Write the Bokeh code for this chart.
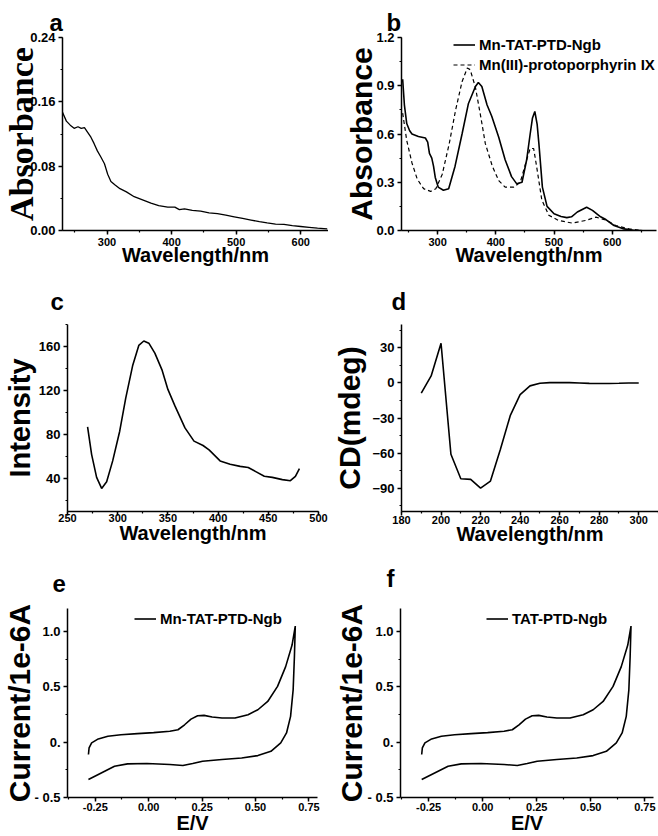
from bokeh.plotting import figure
from bokeh.layouts import column, row
from bokeh.models import (SingleIntervalTicker, FixedTicker, NumeralTickFormatter,
                          Legend, LegendItem)
from bokeh.embed import file_html
from bokeh.resources import INLINE

# ---------------- data ----------------
# (a) UV-vis absorbance
a_wl = [231, 237, 243, 249, 255, 260, 265, 270, 275, 280, 285, 290, 296, 301, 306, 312,
        320, 330, 342, 355, 368, 380, 394, 405, 412, 420, 432, 445, 458, 471, 484, 497,
        510, 523, 536, 548, 561, 574, 587, 600, 613, 626, 641]
a_abs = [0.147, 0.136, 0.131, 0.127, 0.129, 0.127, 0.128, 0.122, 0.116, 0.108, 0.099, 0.092,
         0.083, 0.070, 0.061, 0.057, 0.052, 0.048, 0.042, 0.038, 0.034, 0.031, 0.029, 0.029,
         0.026, 0.027, 0.025, 0.024, 0.022, 0.021, 0.019, 0.017, 0.015, 0.013, 0.011, 0.0095,
         0.008, 0.0075, 0.006, 0.005, 0.004, 0.003, 0.002]

# (b) Mn-TAT-PTD-Ngb (solid) and Mn(III)-protoporphyrin IX (dashed)
b_wl_ngb = [240, 243, 247, 252, 256, 267, 279, 283, 286, 290, 293, 296, 301, 310, 319, 330,
            342, 353, 365, 370, 376, 385, 393, 405, 416, 427, 436, 445, 453, 459, 463, 467,
            471, 474, 480, 488, 500, 512, 522, 530, 540, 556, 566, 580, 589, 603, 620, 637, 650]
b_abs_ngb = [0.94, 0.78, 0.665, 0.62, 0.60, 0.585, 0.575, 0.55, 0.48, 0.45, 0.40, 0.33, 0.27,
             0.25, 0.26, 0.40, 0.60, 0.79, 0.895, 0.92, 0.895, 0.78, 0.71, 0.58, 0.44, 0.335,
             0.29, 0.30, 0.44, 0.60, 0.70, 0.74, 0.66, 0.54, 0.27, 0.15, 0.104, 0.087, 0.08,
             0.085, 0.115, 0.145, 0.125, 0.085, 0.068, 0.031, 0.010, 0.002, 0.0]
b_wl_mnpp = [240, 247, 256, 265, 276, 288, 297, 308, 320, 331, 342, 351, 356, 365, 374, 382,
             394, 405, 416, 431, 442, 453, 459, 465, 470, 479, 491, 508, 531, 554, 572, 589,
             606, 629, 652]
b_abs_mnpp = [0.73, 0.56, 0.42, 0.32, 0.26, 0.243, 0.26, 0.35, 0.54, 0.75, 0.925, 1.01, 1.0,
              0.89, 0.71, 0.54, 0.40, 0.31, 0.27, 0.27, 0.30, 0.44, 0.51, 0.51, 0.40, 0.19,
              0.095, 0.062, 0.046, 0.062, 0.083, 0.065, 0.031, 0.01, 0.0]

# (c) fluorescence intensity
c_wl = [270, 274, 279, 284, 289, 295, 302, 308, 315, 321, 326, 331, 337, 344, 350, 357, 367,
        376, 385, 391, 402, 412, 422, 430, 438, 446, 454, 464, 472, 477, 481]
c_int = [87, 62, 41, 31, 37, 56, 83, 113, 143, 161, 165, 163, 154, 139, 121, 106, 86, 74, 70,
         66, 56, 53, 51, 50, 46, 42, 41, 39, 38, 42, 49]

# (d) circular dichroism
d_wl = [190, 195, 200, 205, 210, 215, 220, 225, 230, 235, 240, 245, 250, 255, 260, 265, 270,
        275, 280, 285, 290, 295, 300]
d_cd = [-8.7, 6, 34, -61, -82, -82.5, -90, -84, -57, -28, -10, -2.5, -0.3, 0.3, 0.4, 0.3, 0,
        -0.4, -0.5, -0.5, -0.3, 0, 0]

# (e, f) cyclic voltammograms (forward then reverse scan)
cv_E = [-0.282, -0.279, -0.267, -0.236, -0.191, -0.130, -0.053, 0.023, 0.099, 0.137, 0.168,
        0.198, 0.229, 0.259, 0.297, 0.343, 0.404, 0.465, 0.511, 0.557, 0.603, 0.641, 0.671,
        0.686, 0.682, 0.676, 0.664, 0.645, 0.618, 0.572, 0.511, 0.435, 0.343, 0.252, 0.206,
        0.160, 0.099, -0.008, -0.099, -0.160, -0.206, -0.252, -0.282]
cv_I = [-0.111, -0.052, -0.006, 0.030, 0.054, 0.068, 0.078, 0.087, 0.099, 0.113, 0.158, 0.209,
        0.240, 0.243, 0.228, 0.219, 0.219, 0.249, 0.294, 0.369, 0.505, 0.684, 0.879, 1.051,
        0.775, 0.474, 0.234, 0.084, -0.006, -0.082, -0.121, -0.142, -0.156, -0.172, -0.193,
        -0.211, -0.201, -0.193, -0.196, -0.217, -0.262, -0.307, -0.337]
cvf_E = list(cv_E)
cvf_I = list(cv_I)

e_yticks = [-0.5, 0, 0.5, 1.0]
e_ylabels = ["- 0.5", "0.", "0.5", "1.0"]

SANS = "Liberation Sans"
SERIF = "Liberation Serif"


def panel(width, height, mbl, mbr, mbt, mbb, xr, yr, tag, t_off, t_stand, t_va):
    p = figure(width=width, height=height, x_range=xr, y_range=yr, output_backend="svg",
               toolbar_location=None, min_border_left=mbl, min_border_right=mbr,
               min_border_top=mbt, min_border_bottom=mbb, title=tag)
    p.title.align = "left"
    p.title.vertical_align = t_va
    p.title.offset = t_off
    p.title.standoff = t_stand
    p.title.text_font = SANS
    p.title.text_font_style = "bold"
    p.title.text_font_size = "24px"
    p.title.text_color = "black"
    p.outline_line_color = None
    p.xgrid.visible = False
    p.ygrid.visible = False
    for ax in (p.xaxis[0], p.yaxis[0]):
        ax.axis_line_width = 1.5
        ax.axis_line_color = "black"
        ax.major_tick_line_width = 1.5
        ax.minor_tick_line_width = 1.2
        ax.major_tick_line_color = "black"
        ax.minor_tick_line_color = "black"
        ax.major_tick_out = 4
        ax.major_tick_in = 0
        ax.minor_tick_out = 2
        ax.minor_tick_in = 0
        ax.major_label_text_font = SANS
        ax.major_label_text_font_style = "bold"
        ax.major_label_text_color = "black"
        ax.axis_label_text_font = SANS
        ax.axis_label_text_font_style = "bold"
        ax.axis_label_text_color = "black"
    p.xaxis[0].major_label_text_font_size = "11px"
    p.yaxis[0].major_label_text_font_size = "13px"
    p.xaxis[0].axis_label_text_font_size = "20px"
    p.yaxis[0].major_label_standoff = 3
    return p


def line_legend(p, items, x, y):
    leg = Legend(items=items, location=(x, y), border_line_color=None,
                 background_fill_alpha=0, padding=0, margin=0, spacing=3,
                 glyph_width=22, glyph_height=15, label_height=15, label_standoff=4,
                 label_text_font=SANS, label_text_font_style="bold",
                 label_text_font_size="15px", label_text_color="black")
    p.add_layout(leg)


LW = 1.6

# ---- (a)
pa = panel(328, 268, 62, 0, 37, 38, (231, 643), (0, 0.24), "a", -13, 0, "top")
pa.line(a_wl, a_abs, line_color="black", line_width=1.3)
pa.xaxis[0].ticker = SingleIntervalTicker(interval=100, num_minor_ticks=2)
pa.yaxis[0].ticker = SingleIntervalTicker(interval=0.08, num_minor_ticks=2)
pa.yaxis[0].formatter = NumeralTickFormatter(format="0.00")
pa.xaxis[0].axis_label = "Wavelength/nm"
pa.yaxis[0].axis_label = "Absorbance"
pa.yaxis[0].axis_label_text_font = SERIF
pa.yaxis[0].axis_label_text_font_size = "34px"
pa.yaxis[0].axis_label_standoff = -13
pa.xaxis[0].major_label_standoff = 3
pa.xaxis[0].axis_label_standoff = -5

# ---- (b)
pb = panel(330, 268, 73, 2, 37, 38, (238, 676), (0, 1.2), "b", -15, 0, "top")
r1 = pb.line(b_wl_ngb, b_abs_ngb, line_color="black", line_width=LW)
r2 = pb.line(b_wl_mnpp, b_abs_mnpp, line_color="black", line_width=1.2, line_dash="4 3")
pb.xaxis[0].ticker = SingleIntervalTicker(interval=100, num_minor_ticks=2)
pb.yaxis[0].ticker = SingleIntervalTicker(interval=0.3, num_minor_ticks=2)
pb.yaxis[0].formatter = NumeralTickFormatter(format="0.0")
pb.xaxis[0].axis_label = "Wavelength/nm"
pb.yaxis[0].axis_label = "Absorbance"
pb.yaxis[0].axis_label_text_font_size = "30px"
pb.yaxis[0].axis_label_standoff = -5
pb.xaxis[0].major_label_standoff = 3
pb.xaxis[0].axis_label_standoff = -5
line_legend(pb, [LegendItem(label="Mn-TAT-PTD-Ngb", renderers=[r1]),
                 LegendItem(label="Mn(III)-protoporphyrin IX", renderers=[r2])], 52, 157)

# ---- (c)
pc = panel(328, 280, 62, 10, 56, 36, (250, 500), (10, 180), "c", -17, 20, "bottom")
pc.line(c_wl, c_int, line_color="black", line_width=LW)
pc.xaxis[0].ticker = SingleIntervalTicker(interval=50, num_minor_ticks=2)
pc.yaxis[0].ticker = SingleIntervalTicker(interval=40, num_minor_ticks=2)
pc.xaxis[0].axis_label = "Wavelength/nm"
pc.yaxis[0].axis_label = "Intensity"
pc.yaxis[0].axis_label_text_font_size = "29px"
pc.yaxis[0].axis_label_standoff = 0
pc.xaxis[0].major_label_standoff = -2
pc.xaxis[0].axis_label_standoff = -3

# ---- (d)
pd_ = panel(330, 280, 73, 0, 54, 37, (180, 310), (-110, 50), "d", -10, 20, "bottom")
pd_.line(d_wl, d_cd, line_color="black", line_width=LW)
pd_.xaxis[0].ticker = SingleIntervalTicker(interval=20, num_minor_ticks=2)
pd_.yaxis[0].ticker = SingleIntervalTicker(interval=30, num_minor_ticks=2)
pd_.xaxis[0].axis_label = "Wavelength/nm"
pd_.yaxis[0].axis_label = "CD(mdeg)"
pd_.yaxis[0].axis_label_text_font_size = "30px"
pd_.yaxis[0].axis_label_standoff = 3
pd_.xaxis[0].major_label_standoff = 0
pd_.xaxis[0].axis_label_standoff = -4


# ---- (e) and (f)
def cv_panel(mbl, mbr, width, E, I, name, lx, tag, t_off, lab_standoff):
    p = panel(width, 288, mbl, mbr, 60, 38, (-0.38, 0.79), (-0.5, 1.21), tag, t_off, 30,
              "top")
    r = p.line(E, I, line_color="black", line_width=LW)
    p.xaxis[0].ticker = SingleIntervalTicker(interval=0.25, num_minor_ticks=2)
    p.xaxis[0].formatter = NumeralTickFormatter(format="0.00")
    p.yaxis[0].ticker = FixedTicker(ticks=e_yticks, minor_ticks=[-0.25, 0.25, 0.75])
    p.yaxis[0].major_label_overrides = dict(zip(e_yticks, e_ylabels))
    p.xaxis[0].axis_label = "E/V"
    p.yaxis[0].axis_label = "Current/1e-6A"
    p.yaxis[0].axis_label_text_font_size = "30px"
    p.yaxis[0].axis_label_standoff = lab_standoff
    p.xaxis[0].major_label_standoff = 1
    p.xaxis[0].axis_label_standoff = -2
    line_legend(p, [LegendItem(label=name, renderers=[r])], lx, 170)
    return p


pe = cv_panel(62, 11, 328, cv_E, cv_I, "Mn-TAT-PTD-Ngb", 67, "e", -15, -5)
pf = cv_panel(72, 5, 330, cvf_E, cvf_I, "TAT-PTD-Ngb", 86, "f", -14, -4)

layout = column(row(pa, pb), row(pc, pd_), row(pe, pf))
open("out.html", "w").write(file_html(layout, INLINE))
